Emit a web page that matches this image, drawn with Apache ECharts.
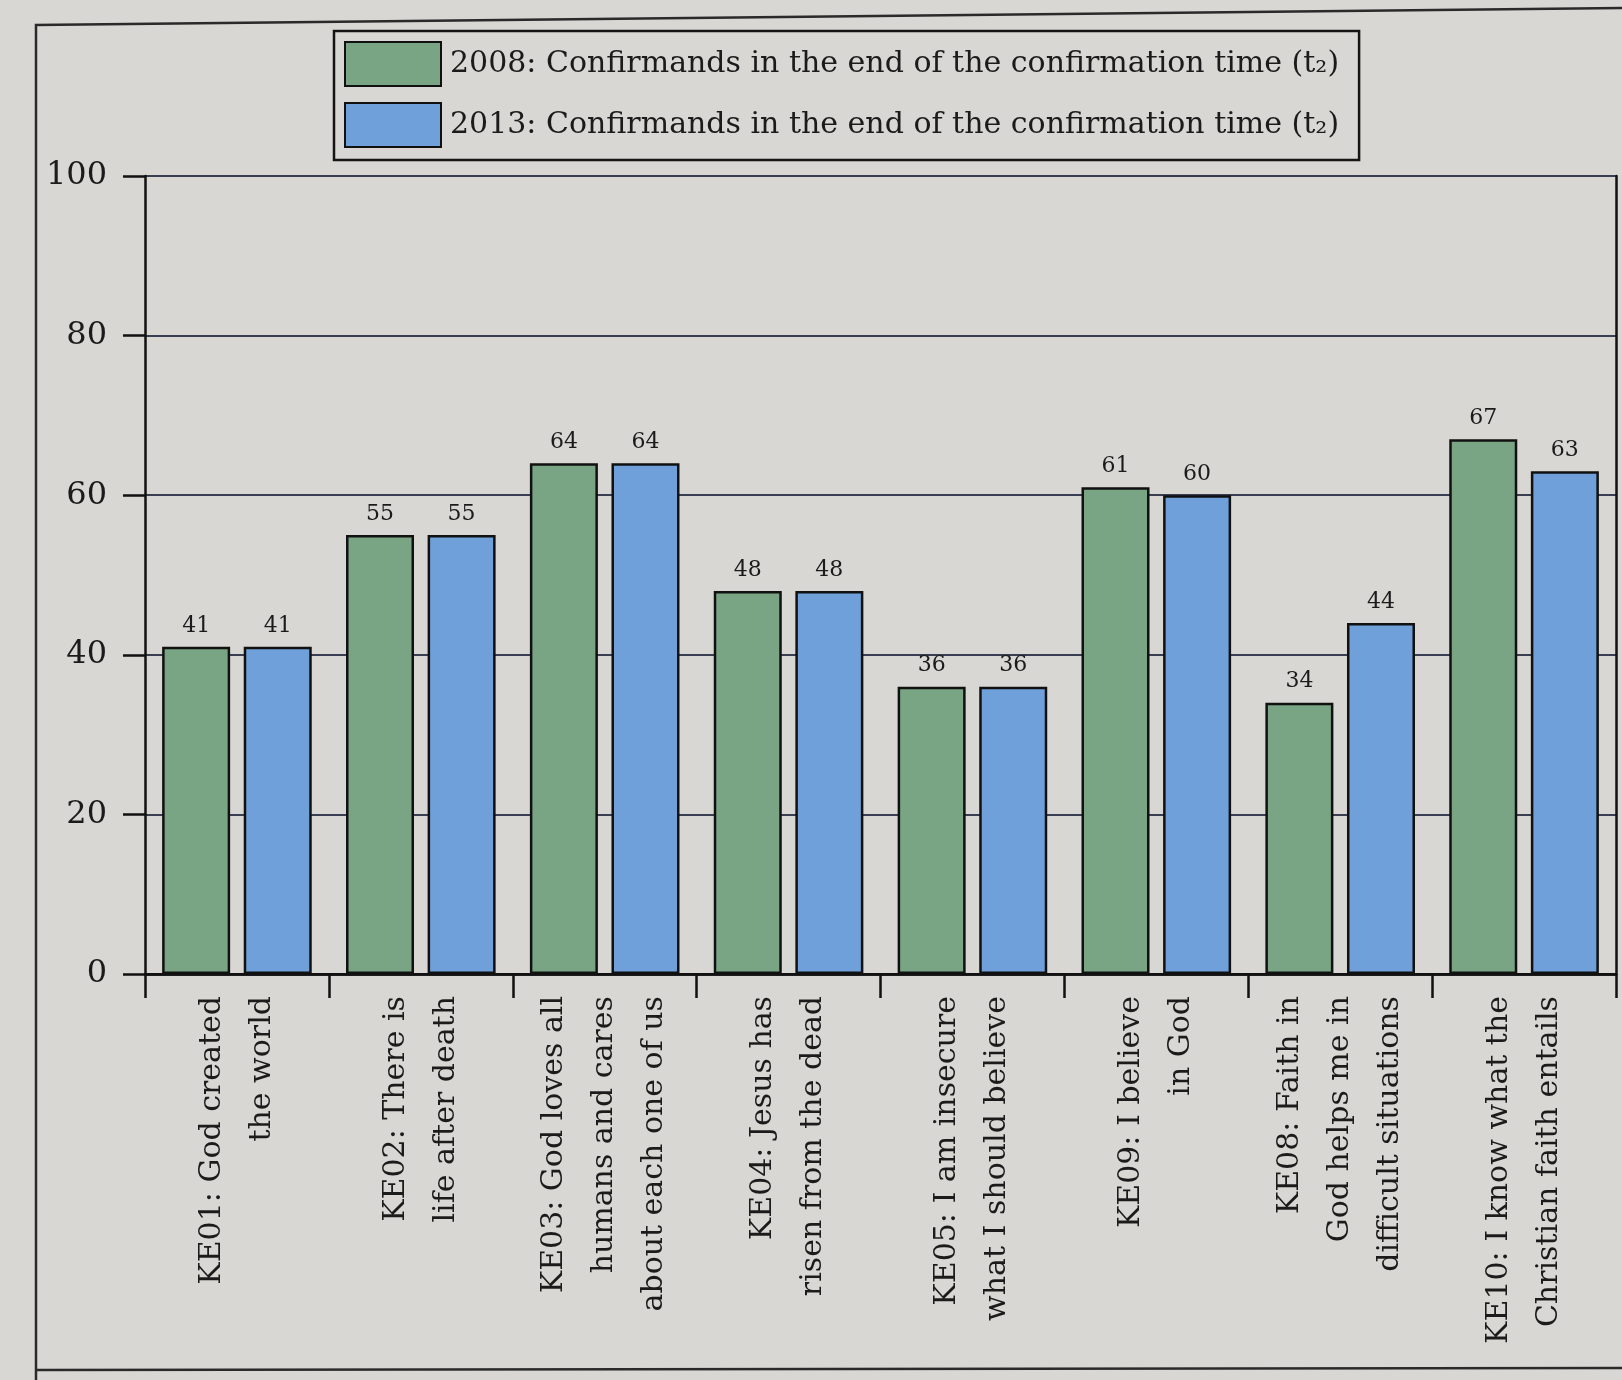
<!DOCTYPE html>
<html>
<head>
<meta charset="utf-8">
<script src="https://cdn.jsdelivr.net/npm/echarts@6/dist/echarts.min.js"></script>
<style>
html,body{margin:0;padding:0;background:#d9d7d3;}
#chart{width:1622px;height:1380px;}
</style>
</head>
<body>
<div id="chart"></div>
<script>
const categories = [
  "KE01: God created\nthe world",
  "KE02: There is\nlife after death",
  "KE03: God loves all\nhumans and cares\nabout each one of us",
  "KE04: Jesus has\nrisen from the dead",
  "KE05: I am insecure\nwhat I should believe",
  "KE09: I believe\nin God",
  "KE08: Faith in\nGod helps me in\ndifficult situations",
  "KE10: I know what the\nChristian faith entails"
];
const series2008 = [41, 55, 64, 48, 36, 61, 34, 67];
const series2013 = [41, 55, 64, 48, 36, 60, 44, 63];
const seriesNames = [
  "2008: Confirmands in the end of the confirmation time (t\u2082)",
  "2013: Confirmands in the end of the confirmation time (t\u2082)"
];
const yTicks = [0, 20, 40, 60, 80, 100];

const FONT = "'DejaVu Serif', 'Liberation Serif', serif";
const INK = '#1b1b1b';

const chart = echarts.init(document.getElementById('chart'));
const barLabel = {
  show: true, position: 'top', distance: 10,
  fontFamily: FONT, fontSize: 22, color: INK
};
chart.setOption({
  backgroundColor: '#d9d7d3',
  animation: false,
  graphic: [
    { type: 'polyline', shape: { points: [[36, 1380], [36, 25], [1622, 8]] },
      style: { stroke: '#2a2a2a', lineWidth: 2.5, fill: null }, silent: true },
    { type: 'line', shape: { x1: 36, y1: 1370, x2: 1622, y2: 1368 },
      style: { stroke: '#2a2a2a', lineWidth: 2.5 }, silent: true }
  ],
  legend: {
    left: 334, top: 31,
    orient: 'vertical',
    icon: 'rect',
    itemWidth: 96, itemHeight: 44, itemGap: 15,
    padding: [10, 20, 12, 10],
    borderColor: '#141414', borderWidth: 2.5,
    textStyle: { fontFamily: FONT, fontSize: 30, color: INK, padding: [0, 0, 0, 4] },
    data: seriesNames
  },
  grid: { left: 145, right: 6, top: 176, bottom: 406, containLabel: false },
  xAxis: [{
    type: 'category',
    data: categories,
    axisLine: { lineStyle: { color: '#111', width: 2.5 } },
    axisTick: { show: true, length: 24, lineStyle: { color: '#111', width: 2.5 } },
    axisLabel: {
      interval: 0, rotate: 90, margin: 22,
      fontFamily: FONT, fontSize: 30, lineHeight: 50, color: INK
    }
  }, {
    type: 'category', position: 'top',
    data: categories,
    axisLine: { show: true, lineStyle: { color: '#111', width: 2.5 } },
    axisTick: { show: false }, axisLabel: { show: false }
  }],
  yAxis: [{
    type: 'value', min: 0, max: 100, interval: 20,
    axisLine: { show: true, lineStyle: { color: '#111', width: 2.5 } },
    axisTick: { show: true, length: 22, lineStyle: { color: '#111', width: 2.5 } },
    axisLabel: { margin: 38, fontFamily: FONT, fontSize: 32, color: INK,
      formatter: v => yTicks.includes(v) ? String(v) : '' },
    splitLine: { show: true, lineStyle: { color: '#3a3e52', width: 2 } }
  }, {
    type: 'value', min: 0, max: 100, interval: 20, position: 'right',
    axisLine: { show: true, lineStyle: { color: '#111', width: 2.5 } },
    axisTick: { show: false }, axisLabel: { show: false }, splitLine: { show: false }
  }],
  series: [{
    name: seriesNames[0], type: 'bar', data: series2008,
    barWidth: 68, barGap: '20%',
    itemStyle: { color: '#79a584', borderColor: '#111', borderWidth: 2.5 },
    label: barLabel
  }, {
    name: seriesNames[1], type: 'bar', data: series2013,
    barWidth: 68, barGap: '20%',
    itemStyle: { color: '#6fa0da', borderColor: '#111', borderWidth: 2.5 },
    label: barLabel
  }]
});
</script>
</body>
</html>
